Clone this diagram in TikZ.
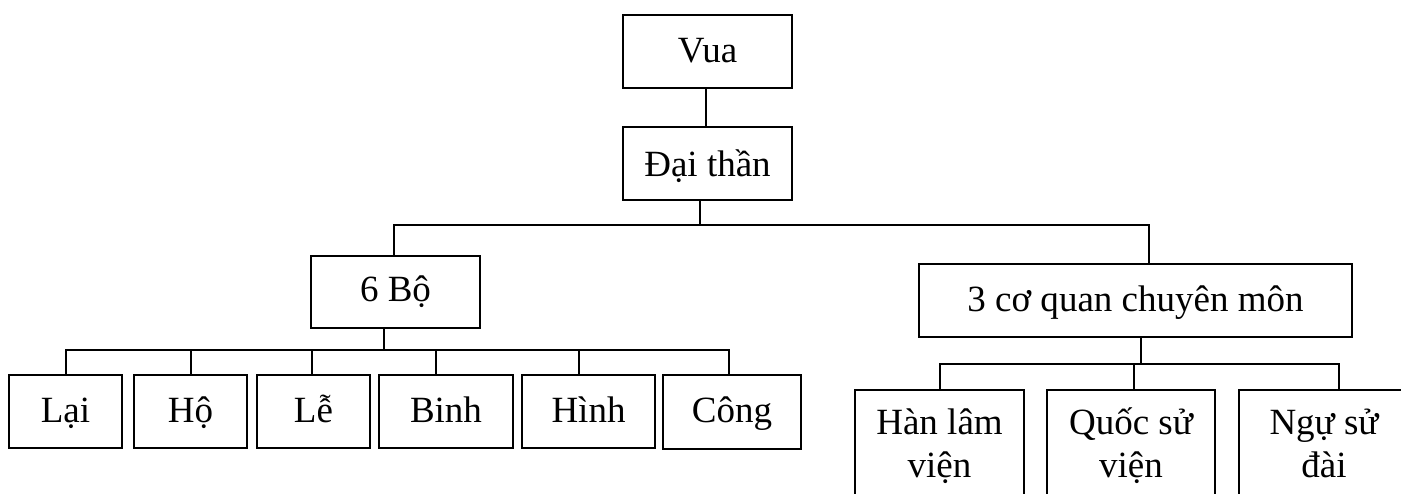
\documentclass[tikz,border=0pt]{standalone}
\usepackage{fontspec}
\setmainfont{Liberation Serif}
\newcommand{\topstr}{\rule{0pt}{16pt}}
\newcommand{\botstr}{\rule[-4pt]{0pt}{4pt}}
\begin{document}
\begin{tikzpicture}[x=0.5pt,y=-0.5pt,
  box/.style={draw, line width=1pt, inner sep=0pt, align=center,
    font=\fontsize{18.5pt}{21.5pt}\selectfont},
  onel/.style={box, text height=14pt, text depth=3.5pt},
  conn/.style={line width=1pt}]
\useasboundingbox (0,0) rectangle (1401,493);
\clip (0,0) rectangle (1401,493);
% top
\node[onel, minimum width=84.5pt, minimum height=36.5pt] (vua) at (707.5,51.5) {Vua};
\node[onel, text height=15pt, text depth=2.5pt, minimum width=84.5pt, minimum height=36.5pt] (dai) at (707.5,163.5) {Đại thần};
% level 2
\node[onel, text height=13pt, text depth=4pt, minimum width=84.5pt, minimum height=36pt] (bo6) at (395.5,292) {6 Bộ};
\node[onel, minimum width=216.5pt, minimum height=36.5pt] (cq3) at (1135.5,300.5) {3 cơ quan chuyên môn};
% level 3 left
\node[onel, minimum width=56.5pt, minimum height=36.5pt] (lai) at (65.5,411.5) {Lại};
\node[onel, minimum width=56.5pt, minimum height=36.5pt] (ho) at (190.5,411.5) {Hộ};
\node[onel, minimum width=56.5pt, minimum height=36.5pt] (le) at (313.5,411.5) {Lễ};
\node[onel, minimum width=67pt, minimum height=36.5pt] (binh) at (446,411.5) {Binh};
\node[onel, minimum width=66.5pt, minimum height=36.5pt] (hinh) at (588.5,411.5) {Hình};
\node[onel, minimum width=69pt, minimum height=37pt] (cong) at (732,411.5) {Công};
% level 3 right
\node[box, minimum width=84.5pt, minimum height=53.5pt] (han) at (939.5,443.5) {\topstr Hàn lâm\\viện\botstr};
\node[box, minimum width=84pt, minimum height=53.5pt] (quoc) at (1131,443.5) {\topstr Quốc sử\\viện\botstr};
\node[box, minimum width=85pt, minimum height=53.5pt] (ngu) at (1324,443.5) {\topstr Ngự sử\\đài\botstr};
% bars
\coordinate (bar1) at (0,225);
\coordinate (bar2) at (0,350);
\coordinate (bar3) at (0,364);
% connectors
\draw[conn] ([xshift=-0.75pt]vua.south) -- ([xshift=-0.75pt]dai.north);
\draw[conn] ([xshift=-3.75pt]dai.south) -- ([xshift=-3.75pt]dai.south |- bar1);
\draw[conn] ([xshift=-0.75pt]bo6.north) -- ([xshift=-0.75pt]bo6.north |- bar1)
  -- ([xshift=6.75pt]cq3.north |- bar1) -- ([xshift=6.75pt]cq3.north);
\draw[conn] ([xshift=-5.75pt]bo6.south) -- ([xshift=-5.75pt]bo6.south |- bar2);
\draw[conn] (lai.north) -- (lai.north |- bar2) -- ([xshift=-1.5pt]cong.north |- bar2) -- ([xshift=-1.5pt]cong.north);
\draw[conn] (ho.north) -- (ho.north |- bar2);
\draw[conn] ([xshift=-0.75pt]le.north) -- ([xshift=-0.75pt]le.north |- bar2);
\draw[conn] ([xshift=-5pt]binh.north) -- ([xshift=-5pt]binh.north |- bar2);
\draw[conn] ([xshift=-4.75pt]hinh.north) -- ([xshift=-4.75pt]hinh.north |- bar2);
\draw[conn] ([xshift=2.75pt]cq3.south) -- ([xshift=2.75pt]cq3.south |- bar3);
\draw[conn] (han.north) -- (han.north |- bar3) -- ([xshift=7.5pt]ngu.north |- bar3) -- ([xshift=7.5pt]ngu.north);
\draw[conn] ([xshift=1.5pt]quoc.north) -- ([xshift=1.5pt]quoc.north |- bar3);
\end{tikzpicture}
\end{document}
